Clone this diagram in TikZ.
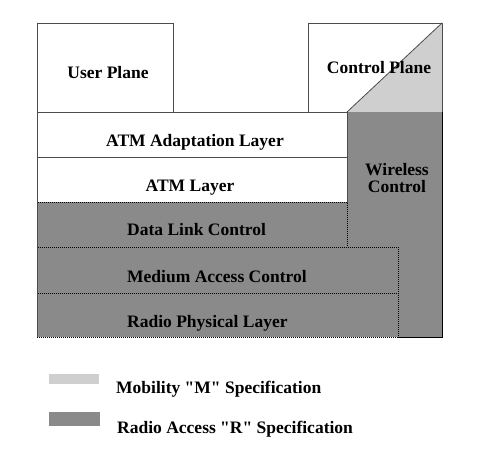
\documentclass[tikz,border=0pt]{standalone}
\usepackage{fontspec}
\setmainfont{Liberation Serif}
\newfontfamily\legfont{Liberation Serif}
\begin{document}
\begin{tikzpicture}[x=1pt,y=-1pt,
  lbl/.style={font=\fontsize{17.5}{13}\selectfont\bfseries, inner sep=0pt, text=black},
  leglbl/.style={font=\legfont\fontsize{17.5}{13}\selectfont\bfseries, inner sep=0pt, text=black},
  whitebox/.style={fill=white, draw=black!70, line width=1pt},
  rbox/.style={fill=rgray, draw=black, line width=1pt, dash pattern=on 1pt off 1pt},
  mfill/.style={fill=mgray}
]
\definecolor{rgray}{HTML}{8A8A8A}
\definecolor{mgray}{HTML}{CFCFCF}
\useasboundingbox (0,0) rectangle (482,453);
\fill[white] (0,0) rectangle (482,453);

% planes
\draw[whitebox] (37,23) rectangle (173,112);
\draw[whitebox] (308,23) rectangle (442,112);
\fill[mgray] (347,112) -- (442,23) -- (442,112) -- cycle;
\draw[black!70, line width=0.8pt] (347,112) -- (442,23);
\draw[black!70, line width=1pt] (308,23) -- (442,23) -- (442,112);

% wireless control column
\fill[rgray] (347,112) rectangle (442,337);

% white layers
\draw[whitebox] (37,112) rectangle (347,157);
\draw[whitebox] (37,157) rectangle (347,202);

% radio layers
\draw[rbox] (37,202) rectangle (347,247);
\draw[rbox] (37,247) rectangle (398,293);
\draw[rbox] (37,293) rectangle (398,337);
\draw[black!70, line width=1pt] (37,202) -- (37,337);
\draw[black, line width=1pt] (442,112) -- (442,337) -- (398,337);

% labels
\node[lbl, anchor=base] (up) at (108,78) {User Plane};
\node[lbl, anchor=base] (cp) at (379,73) {Control Plane};
\node[lbl, anchor=base] (aal) at (195,146) {ATM Adaptation Layer};
\node[lbl, anchor=base] (atm) at (190,191) {ATM Layer};
\node[lbl, anchor=base west] (dlc) at (127,235) {Data Link Control};
\node[lbl, anchor=base west] (mac) at (127,282) {Medium Access Control};
\node[lbl, anchor=base west] (rpl) at (127,327) {Radio Physical Layer};
\node[lbl, anchor=base] (wl1) at (397,175) {Wireless};
\node[lbl, anchor=base] (wl2) at (397,192) {Control};

% legend
\fill[mgray] (49,374) rectangle (99,384);
\fill[rgray] (49,412) rectangle (100,426);
\node[leglbl, anchor=base west] (lm) at (116,393) {Mobility "M" Specification};
\node[leglbl, anchor=base west] (lr) at (117,433) {Radio Access "R" Specification};
\end{tikzpicture}
\end{document}
